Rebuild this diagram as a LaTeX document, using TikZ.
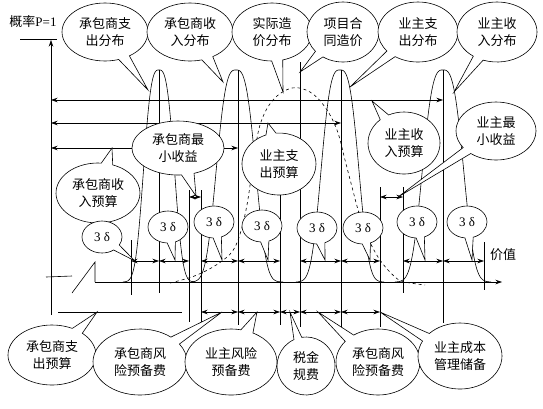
\documentclass[tikz,border=0pt]{standalone}
\usepackage{fontspec}
\setmainfont{Liberation Serif}
\newfontfamily\cjk{Noto Sans CJK SC}
\usetikzlibrary{shapes.callouts,arrows.meta}
\begin{document}
\begin{tikzpicture}[x=1pt,y=-1pt,line width=0.6pt,
  >={Stealth[length=6.5pt,width=4.5pt]},
  co/.style={ellipse callout,draw,fill=white,align=center,inner sep=0pt,
    font=\cjk\fontsize{13}{17}\selectfont,callout pointer arc=16},
  dco/.style={ellipse callout,draw,fill=white,inner sep=0pt,
    minimum width=40pt,minimum height=32pt,font=\fontsize{13}{15}\selectfont,
    callout pointer arc=24},
  dimarr/.style={<->},
  bell/.style={line width=0.6pt},
]
\useasboundingbox (0,0) rectangle (543,408);

% axes
\coordinate (yb) at (51,315);
\coordinate (yt) at (51,40);
\draw[->] (yb) -- (yt);
\draw (20,39) -- (57,39);
\node (plabel) at (33,22) {{\cjk\fontsize{13}{15}\selectfont 概率}\fontsize{13}{15}\selectfont P=1};
\coordinate (xa) at (95,282);
\coordinate (xb) at (502,282);
\draw[->] (xa) -- (xb);
\draw (46,277) -- (72,276);
\draw (72,293) -- (95,262) -- (xa);
\node[font=\cjk\fontsize{13}{15}\selectfont] (jz) at (503,255) {价值};

% vertical lines
\foreach \p/\a/\b in {131/240/295, 159/70/293, 189/190/322, 201/190/322,
  238/70/325, 280/190/325, 300/62/327, 341/70/328, 380/187/327,
  403/187/293, 443/70/323, 484/242/290}
  \draw (\p,\a) -- (\p,\b);

% bell curves
\foreach \m/\s/\lo/\hi in {159/18/123/195, 236/23/192/283, 340/22/296/384, 443/24/395/491}
  \draw[bell] plot[variable=\t,domain=\lo:\hi,samples=90,smooth]
    (\t,{282-212*exp(-(abs(\t-\m)/\s)^3)});

% dashed actual cost curve
\draw[dashed] plot[smooth,tension=0.6] coordinates {(170,283) (197,275) (222,261)
  (236,245) (246,210) (253,165) (260,125) (273,100) (292,88) (310,92) (325,107)
  (337,130) (345,160) (352,187) (359,213) (368,238) (380,260) (395,277) (405,282) (425,285)};

% budget arrows
\draw[<->] (51,100) -- (443,100);
\draw[<->] (51,123) -- (341,123);
\draw[<->] (51,148) -- (238,148);

% 3 delta arrows
\foreach \a/\b in {131/159, 159/189, 201/238, 238/280, 300/341, 341/380, 403/443, 443/484}
  \draw[<->] (\a,261) -- (\b,261);

% minimum profits
\draw[<->] (189,197) -- (201,197);
\draw[<->] (380,197) -- (403,197);

% bottom reserves
\draw (58,312) -- (182,312);
\foreach \a/\b in {201/238, 238/280, 280/300, 300/341, 341/380}
  \draw[<->] (\a,312) -- (\b,312);

% top callouts
\node[co,minimum width=86pt,minimum height=58pt,callout absolute pointer={(148,90)}] (t1) at (105,32) {承包商支\\出分布};
\node[co,minimum width=86pt,minimum height=58pt,callout absolute pointer={(223,82)}] (t2) at (190,32) {承包商收\\入分布};
\node[co,minimum width=80pt,minimum height=58pt,callout absolute pointer={(283,92)}] (t3) at (272,32) {实际造\\价分布};
\node[co,minimum width=72pt,minimum height=60pt,callout absolute pointer={(300,72)}] (t4) at (343,32) {项目合\\同造价};
\node[co,minimum width=80pt,minimum height=60pt,callout absolute pointer={(350,87)}] (t5) at (418,32) {业主支\\出分布};
\node[co,minimum width=80pt,minimum height=60pt,callout absolute pointer={(454,92)}] (t6) at (497,32) {业主收\\入分布};

% middle callouts
\node[co,minimum width=92pt,minimum height=54pt,callout absolute pointer={(196,196)}] (m1) at (178,148) {承包商最\\小收益};
\node[co,minimum width=84pt,minimum height=60pt,callout absolute pointer={(112,148)}] (m2) at (98,193) {承包商收\\入预算};
\node[co,minimum width=74pt,minimum height=62pt,callout absolute pointer={(268,123)}] (m3) at (279,164) {业主支\\出预算};
\node[co,minimum width=72pt,minimum height=62pt,callout absolute pointer={(372,101)}] (m4) at (404,143) {业主收\\入预算};
\node[co,minimum width=80pt,minimum height=58pt,callout absolute pointer={(398,197)}] (m5) at (496,131) {业主最\\小收益};

% 3 delta callouts
\node[dco,callout absolute pointer={(135,261)}] (d1) at (102,237) {3 δ};
\node[dco,callout absolute pointer={(175,260)}] (d2) at (168,227) {3 δ};
\node[dco,callout absolute pointer={(222,260)}] (d3) at (214,222) {3 δ};
\node[dco,callout absolute pointer={(268,260)}] (d4) at (262,226) {3 δ};
\node[dco,callout absolute pointer={(325,260)}] (d5) at (317,228) {3 δ};
\node[dco,callout absolute pointer={(370,260)}] (d6) at (363,228) {3 δ};
\node[dco,callout absolute pointer={(425,260)}] (d7) at (417,222) {3 δ};
\node[dco,callout absolute pointer={(472,260)}] (d8) at (467,222) {3 δ};

% bottom callouts
\node[co,minimum width=88pt,minimum height=60pt,callout absolute pointer={(97,312)}] (b1) at (52,355) {承包商支\\出预算};
\node[co,minimum width=94pt,minimum height=66pt,callout absolute pointer={(222,312)}] (b2) at (140,362) {承包商风\\险预备费};
\node[co,minimum width=92pt,minimum height=66pt,callout absolute pointer={(257,312)}] (b3) at (231,362) {业主风险\\预备费};
\node[co,minimum width=58pt,minimum height=58pt,callout absolute pointer={(290,312)}] (b4) at (306,366) {税金\\规费};
\node[co,minimum width=84pt,minimum height=66pt,callout absolute pointer={(318,312)}] (b5) at (378,362) {承包商风\\险预备费};
\node[co,minimum width=84pt,minimum height=66pt,callout absolute pointer={(380,312)}] (b6) at (460,356) {业主成本\\管理储备};
\end{tikzpicture}
\end{document}
